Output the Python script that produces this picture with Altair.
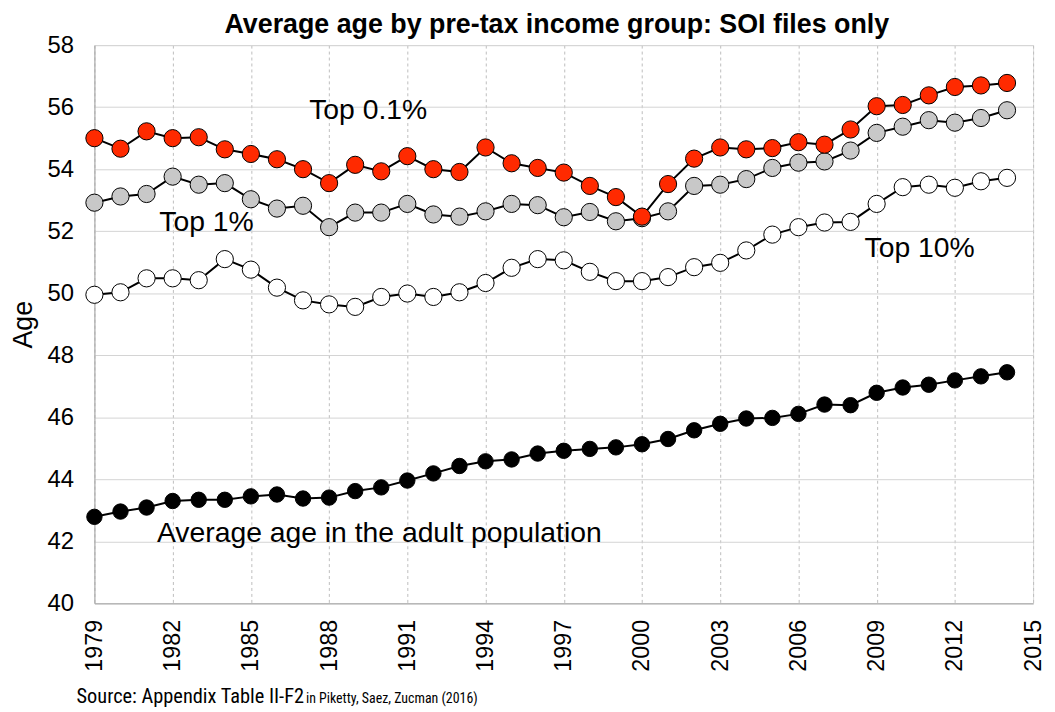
import altair as alt
import pandas as pd

years = list(range(1979, 2015))
top01 = [55.0, 54.66, 55.22, 55.0, 55.03, 54.64, 54.49, 54.32, 54.0, 53.55,
         54.14, 53.93, 54.42, 54.0, 53.91, 54.70, 54.19, 54.04, 53.89, 53.46,
         53.10, 52.47, 53.52, 54.34, 54.70, 54.64, 54.68, 54.87, 54.79, 55.28,
         56.03, 56.07, 56.38, 56.65, 56.70, 56.78]
top1 = [52.92, 53.12, 53.20, 53.76, 53.50, 53.55, 53.03, 52.73, 52.82, 52.13,
        52.60, 52.60, 52.88, 52.54, 52.47, 52.64, 52.88, 52.84, 52.45, 52.62,
        52.32, 52.42, 52.64, 53.46, 53.50, 53.68, 54.04, 54.21, 54.25, 54.60,
        55.17, 55.37, 55.58, 55.50, 55.65, 55.90]
top10 = [49.95, 50.03, 50.48, 50.48, 50.42, 51.10, 50.76, 50.18, 49.77, 49.64,
         49.56, 49.88, 49.99, 49.88, 50.03, 50.33, 50.82, 51.10, 51.06, 50.69,
         50.39, 50.39, 50.52, 50.84, 50.98, 51.38, 51.89, 52.13, 52.28, 52.30,
         52.88, 53.42, 53.50, 53.40, 53.61, 53.72]
avg = [42.79, 42.96, 43.09, 43.30, 43.34, 43.34, 43.45, 43.51, 43.38, 43.41,
       43.62, 43.74, 43.96, 44.19, 44.43, 44.58, 44.64, 44.83, 44.92, 44.98,
       45.03, 45.13, 45.30, 45.58, 45.79, 45.96, 45.98, 46.11, 46.41, 46.39,
       46.79, 46.96, 47.05, 47.19, 47.32, 47.45]

series_names = ["Top 10%", "Top 1%", "Top 0.1%", "Average age in the adult population"]
series_values = [top10, top1, top01, avg]
series_fill = ["#ffffff", "#c8c8c8", "#ff2a00", "#000000"]
series_size = [300, 300, 300, 240]

label_text = ["Top 0.1%", "Top 1%", "Top 10%", "Average age in the adult population"]
label_year = [1989.5, 1983.3, 2010.65, 1981.4]
label_age = [55.9, 52.3, 51.45, 42.27]
label_align = ["center", "center", "center", "left"]

title_text = "Average age by pre-tax income group: SOI files only"
source_main = "Source: Appendix Table II-F2"
source_small = "in Piketty, Saez, Zucman (2016)"

x_ticks = list(range(1979, 2016, 3))
y_ticks = list(range(40, 59, 2))

W, H = 945, 562
FONT = "Liberation Sans"
NARROW = "Liberation Sans Narrow, Roboto Condensed, Liberation Sans"

xscale = alt.Scale(domain=[1979, 2015], nice=False, zero=False)
yscale = alt.Scale(domain=[40, 58], nice=False, zero=False)

xaxis = alt.Axis(values=x_ticks, format="d", labelAngle=-90, labelAlign="right",
                 labelBaseline="middle", labelFontSize=23.5, labelFont=FONT,
                 labelColor="#000000", labelPadding=16, title=None, ticks=False,
                 grid=True, gridDash=[3, 3], gridColor="#bdbdbd",
                 domainColor="#a6a6a6", labelOverlap=False)
yaxis = alt.Axis(values=y_ticks, labelFontSize=24, labelFont=FONT,
                 labelColor="#000000", labelPadding=21, ticks=False, title="Age",
                 titleFontSize=27, titleFont=FONT, titleFontWeight="normal",
                 titleColor="#000000", titlePadding=10,
                 grid=True, gridColor="#d4d4d4", domainColor="#a6a6a6")

X = alt.X("year:Q", scale=xscale, axis=xaxis)
Y = alt.Y("age:Q", scale=yscale, axis=yaxis)

layers = []
for i, (name, vals) in enumerate(zip(series_names, series_values)):
    df = pd.DataFrame({"year": years, "age": vals, "series": name})
    base = alt.Chart(df)
    line = base.mark_line(color="#000000", strokeWidth=2).encode(x=X, y=Y)
    pts = base.mark_point(filled=True, fill=series_fill[i], stroke="#000000",
                          strokeWidth=1, size=series_size[i], opacity=1,
                          shape="circle").encode(x=X, y=Y)
    layers += [line, pts]

for t, yr, ag, al in zip(label_text, label_year, label_age, label_align):
    ldf = pd.DataFrame({"year": [yr], "age": [ag], "text": [t]})
    layers.append(
        alt.Chart(ldf).mark_text(fontSize=28.5, font=FONT, color="#000000",
                                 align=al, baseline="middle").encode(
            x=X, y=Y, text="text:N")
    )

layers.append(alt.Chart(pd.DataFrame({"text": [title_text]})).mark_text(
    fontSize=27, font=FONT, fontWeight="bold", color="#000000",
    align="center", baseline="alphabetic").encode(
    x=alt.value(W / 2 - 7), y=alt.value(-12), text="text:N"))
layers.append(alt.Chart(pd.DataFrame({"text": [source_main]})).mark_text(
    fontSize=20.5, font=NARROW, color="#000000",
    align="left", baseline="alphabetic").encode(
    x=alt.value(-18), y=alt.value(662), text="text:N"))
layers.append(alt.Chart(pd.DataFrame({"text": [source_small]})).mark_text(
    fontSize=14, font=NARROW, color="#000000",
    align="left", baseline="alphabetic").encode(
    x=alt.value(213), y=alt.value(662), text="text:N"))

chart = alt.layer(*layers).properties(
    width=W, height=H,
    autosize=alt.AutoSizeParams(type="none"),
    padding={"left": 87, "top": 35, "right": 14, "bottom": 107},
).configure_view(stroke=None).configure(background="#ffffff")

chart.save("out.html", embed_options={"renderer": "svg", "actions": False})
